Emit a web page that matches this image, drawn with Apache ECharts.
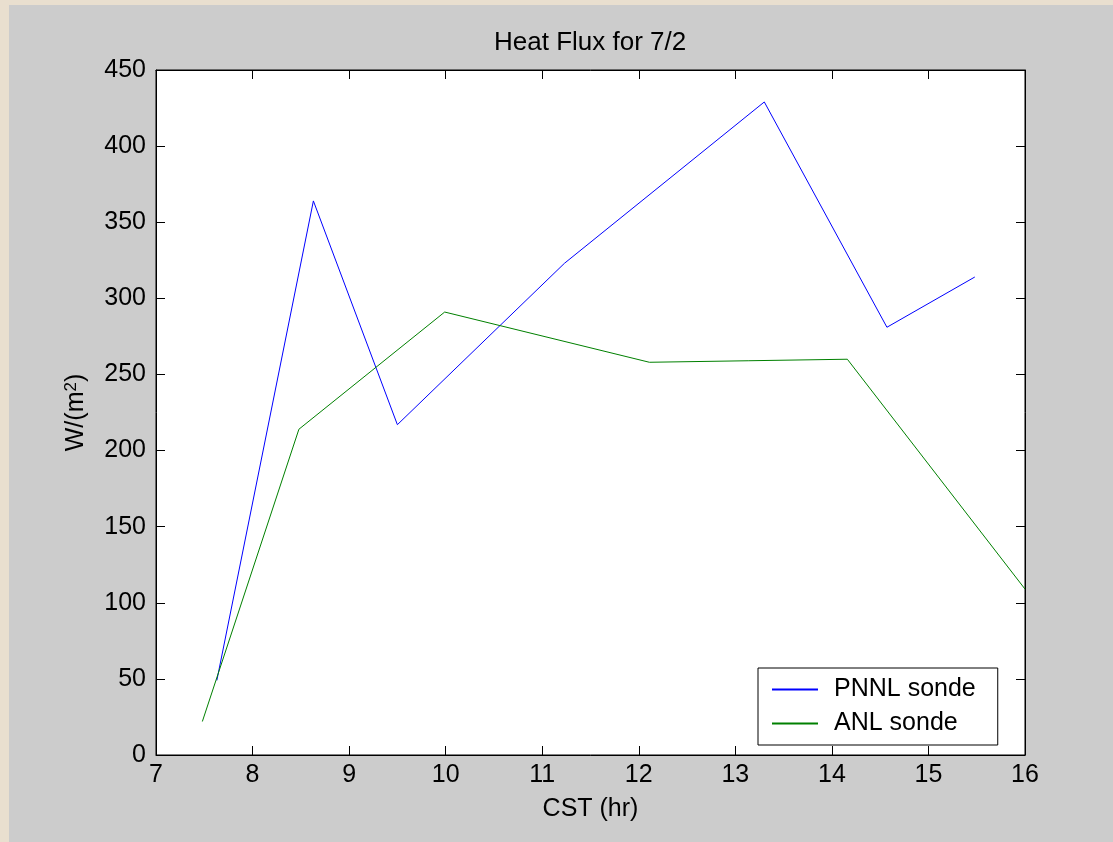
<!DOCTYPE html>
<html>
<head>
<meta charset="utf-8">
<title>Heat Flux for 7/2</title>
<script src="https://cdn.jsdelivr.net/npm/echarts@6/dist/echarts.min.js"></script>
<style>
  html, body { margin: 0; padding: 0; }
  body { width: 1113px; height: 842px; background: #e9dfcf; position: relative; overflow: hidden; }
  #chart { position: absolute; left: 9px; top: 5px; width: 1104px; height: 837px; background: #cccccc; }
</style>
</head>
<body>
<div id="chart"></div>
<script>
// data
var pnnlHours = [7.63, 8.63, 9.50, 11.23, 13.30, 14.57, 15.48];
var pnnlFlux = [49, 364, 217, 323, 429, 281, 314];

var anlHours = [7.48, 8.48, 9.99, 12.11, 13.14, 14.16, 16.0];
var anlFlux = [22, 214, 291, 258, 259, 260, 109];

var xTicks = { min: 7, max: 16, step: 1 };
var yTicks = { min: 0, max: 450, step: 50 };

var FONT = '"Liberation Sans", Arial, sans-serif';
var FS = 25;

function pairs(xs, ys) {
  var out = [];
  for (var i = 0; i < xs.length; i++) out.push([xs[i], ys[i]]);
  return out;
}

function axisBase(pos, ticks, showLabel) {
  return {
    type: 'value',
    position: pos,
    min: ticks.min,
    max: ticks.max,
    interval: ticks.step,
    axisLine: { show: true, onZero: false, lineStyle: { color: '#000', width: 1 } },
    axisTick: { show: true, inside: true, length: 9, lineStyle: { color: '#000', width: 1 } },
    splitLine: { show: false },
    axisLabel: {
      show: showLabel,
      color: '#000',
      fontFamily: FONT,
      fontSize: FS,
      margin: 8
    }
  };
}

var chart = echarts.init(document.getElementById('chart'), null, { renderer: 'canvas' });

var xBottom = axisBase('bottom', xTicks, true);
xBottom.name = 'CST (hr)';
xBottom.nameLocation = 'middle';
xBottom.nameGap = 42;
xBottom.nameTextStyle = { color: '#000', fontFamily: FONT, fontSize: FS };

var yLeft = axisBase('left', yTicks, true);
yLeft.axisLabel.margin = 10;
yLeft.name = 'W/(m{sup|2})';
yLeft.nameLocation = 'middle';
yLeft.nameGap = 66;
yLeft.nameRotate = 90;
yLeft.nameTextStyle = {
  color: '#000', fontFamily: FONT, fontSize: FS,
  rich: { sup: { fontFamily: FONT, fontSize: 17, verticalAlign: 'top', color: '#000', padding: [0, 0, 10, 0] } }
};

var option = {
  animation: false,
  backgroundColor: 'transparent',
  title: {
    text: 'Heat Flux for 7/2',
    left: 480,
    top: 20,
    textStyle: { color: '#000', fontFamily: FONT, fontSize: 26, fontWeight: 'normal' }
  },
  grid: {
    left: 147, top: 65, right: 88, bottom: 87,
    show: true, backgroundColor: '#ffffff', borderColor: '#000', borderWidth: 1,
    containLabel: false
  },
  legend: {
    orient: 'vertical',
    left: 749, top: 663,
    padding: [9, 22, 9, 14],
    itemGap: 9,
    itemWidth: 46,
    itemHeight: 2,
    icon: 'rect',
    backgroundColor: '#ffffff',
    borderColor: '#000',
    borderWidth: 1,
    borderRadius: 0,
    textStyle: { color: '#000', fontFamily: FONT, fontSize: FS, lineHeight: 24, padding: [0, 0, 0, 11] },
    data: ['PNNL sonde', 'ANL sonde']
  },
  xAxis: [xBottom, axisBase('top', xTicks, false)],
  yAxis: [yLeft, axisBase('right', yTicks, false)],
  series: [
    {
      name: 'PNNL sonde', type: 'line', symbol: 'none',
      color: '#0000ff', lineStyle: { color: '#0000ff', width: 1 },
      data: pairs(pnnlHours, pnnlFlux)
    },
    {
      name: 'ANL sonde', type: 'line', symbol: 'none',
      color: '#008000', lineStyle: { color: '#008000', width: 1 },
      data: pairs(anlHours, anlFlux)
    }
  ]
};

chart.setOption(option);
</script>
</body>
</html>
